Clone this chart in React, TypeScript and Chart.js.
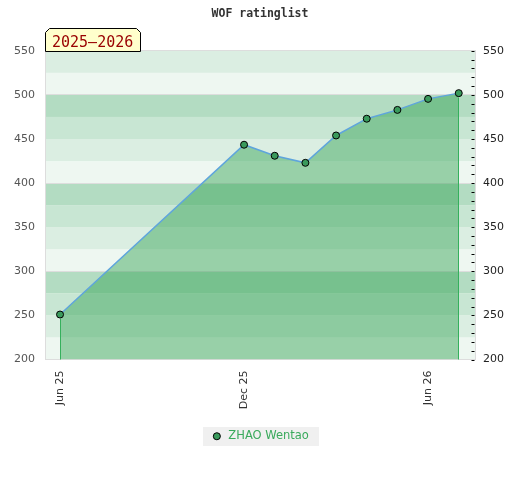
import React, { useEffect, useRef } from "react";
import { Chart, registerables } from "chart.js";

Chart.register(...registerables);

const chartTitle = "WOF ratinglist";
const seasonLabel = "2025–2026";
const seriesName = "ZHAO Wentao";

// observation dates (year-month) and ratings
const dates = ["2025-06", "2025-12", "2026-01", "2026-02", "2026-03", "2026-04", "2026-05", "2026-06", "2026-07"];
const ratings = [251, 443.5, 431, 423, 454, 473, 483, 495.5, 502];

// x axis ticks
const xTickDates = ["2025-06", "2025-12", "2026-06"];
const xTickLabels = ["Jun 25", "Dec 25", "Jun 26"];
// x axis range in months counted from Jan 2025
const xRange = [4.51, 18.53];

// y axis
const yMin = 200;
const yMax = 550;
const yStep = 50;
const yMinorStep = 10;
const bandStep = 25;
const bandColors = ["#eef7f1", "#dbeee2", "#c8e6d3", "#b3dcc2"];

function monthIndex(s: string): number {
  const [y, m] = s.split("-").map(Number);
  return (y - 2025) * 12 + (m - 1);
}

const GREEN = "#3aaa5c";
const POINT = "#3a9a5c";

const decor = {
  id: "decor",
  beforeDraw(chart: any) {
    const { ctx, chartArea } = chart;
    const y = chart.scales.y;
    ctx.save();
    for (let v = yMin; v < yMax; v += bandStep) {
      const idx = Math.round((v % 100) / bandStep) % bandColors.length;
      const top = y.getPixelForValue(v + bandStep);
      const bot = y.getPixelForValue(v);
      ctx.fillStyle = bandColors[idx];
      ctx.fillRect(chartArea.left, top, chartArea.right - chartArea.left, bot - top);
    }
    const hb = chart.legend && chart.legend.legendHitBoxes && chart.legend.legendHitBoxes[0];
    if (hb) {
      const cy = hb.top + hb.height / 2;
      ctx.fillStyle = "#f0f0f0";
      ctx.fillRect(Math.round(hb.left - 8), Math.round(cy - 9.5), Math.round(hb.width + 18), 19);
    }
    ctx.restore();
  },
  afterDatasetsDraw(chart: any) {
    const { ctx, chartArea } = chart;
    const meta = chart.getDatasetMeta(0);
    const pts = meta.data;
    if (!pts.length) return;
    ctx.save();
    ctx.strokeStyle = "#35b05c";
    ctx.lineWidth = 1;
    [pts[0], pts[pts.length - 1]].forEach((p: any) => {
      const x = Math.floor(p.x) + 0.5;
      ctx.beginPath();
      ctx.moveTo(x, p.y + 4.5);
      ctx.lineTo(x, chartArea.bottom);
      ctx.stroke();
    });
    ctx.restore();
  },
  afterDraw(chart: any) {
    const { ctx, chartArea } = chart;
    const y2 = chart.scales.y2;
    ctx.save();
    // minor ticks on right edge, inside plot
    ctx.strokeStyle = "#000";
    ctx.lineWidth = 1;
    for (let v = yMin; v <= yMax; v += yMinorStep) {
      const py = Math.round(y2.getPixelForValue(v)) + 0.5;
      ctx.beginPath();
      ctx.moveTo(chartArea.right - 3.5, py);
      ctx.lineTo(chartArea.right - 0.5, py);
      ctx.stroke();
    }
    // season label box
    ctx.font = '15px "DejaVu Sans Mono"';
    const tw = ctx.measureText(seasonLabel).width;
    const x0 = Math.round(chartArea.left) + 0.5;
    const x1 = Math.round(chartArea.left + tw + 14) + 0.5;
    const yb = Math.round(chartArea.top) + 0.5;
    const yt = yb - 23;
    const c = 4;
    ctx.beginPath();
    ctx.moveTo(x0, yb);
    ctx.lineTo(x0, yt + c);
    ctx.lineTo(x0 + c, yt);
    ctx.lineTo(x1 - c, yt);
    ctx.lineTo(x1, yt + c);
    ctx.lineTo(x1, yb);
    ctx.closePath();
    ctx.fillStyle = "#ffffcc";
    ctx.fill();
    ctx.strokeStyle = "#000";
    ctx.stroke();
    ctx.fillStyle = "#990000";
    ctx.textBaseline = "alphabetic";
    ctx.textAlign = "left";
    ctx.fillText(seasonLabel, x0 + 6.5, yb - 5);
    ctx.restore();
  },
};

export default function App() {
  const ref = useRef<HTMLCanvasElement | null>(null);

  useEffect(() => {
    document.body.style.margin = "0";
    if (!ref.current) return;
    const data = dates.map((d, i) => ({ x: monthIndex(d), y: ratings[i] }));
    const chart = new Chart(ref.current, {
      type: "line",
      data: {
        datasets: [
          {
            label: seriesName,
            data,
            yAxisID: "y",
            borderColor: "#5fa5dc",
            borderWidth: 1.5,
            backgroundColor: "rgba(46,160,80,0.45)",
            fill: "start",
            pointRadius: 3.5,
            pointBackgroundColor: POINT,
            pointBorderColor: "#000",
            pointBorderWidth: 1,
            tension: 0,
          },
        ],
      },
      options: {
        animation: false,
        responsive: false,
        events: [],
        layout: { padding: { top: 0, left: 0, right: 0, bottom: 28 } },
        scales: {
          x: {
            type: "linear",
            min: xRange[0],
            max: xRange[1],
            afterBuildTicks: (s: any) => {
              s.ticks = xTickDates.map((d) => ({ value: monthIndex(d) }));
            },
            afterFit: (s: any) => {
              s.height = 61;
            },
            ticks: {
              autoSkip: false,
              minRotation: 90,
              maxRotation: 90,
              padding: 11,
              color: "#333",
              font: { family: "DejaVu Sans", size: 11 },
              callback: (v: any) => {
                const i = xTickDates.findIndex((d) => monthIndex(d) === v);
                return i >= 0 ? xTickLabels[i] : "";
              },
            },
            grid: { drawOnChartArea: false, drawTicks: false },
            border: { display: true, color: "#ddd" },
          },
          y: {
            position: "left",
            min: yMin,
            max: yMax,
            afterFit: (s: any) => {
              s.width = 45;
            },
            ticks: {
              stepSize: yStep,
              padding: 10,
              color: "#555",
              font: { family: "DejaVu Sans", size: 11 },
            },
            grid: {
              drawTicks: false,
              color: (ctx: any) =>
                ctx.tick && (ctx.tick.value % 100 === 0 || ctx.tick.value === yMax) ? "#dddddd" : "rgba(0,0,0,0)",
            },
            border: { display: true, color: "#ddd" },
          },
          y2: {
            position: "right",
            min: yMin,
            max: yMax,
            afterFit: (s: any) => {
              s.width = 45;
            },
            ticks: {
              stepSize: yStep,
              padding: 8,
              color: "#222",
              font: { family: "DejaVu Sans", size: 11 },
            },
            grid: { drawOnChartArea: false, drawTicks: false },
            border: { display: true, color: "#ddd" },
          },
        },
        plugins: {
          title: {
            display: true,
            text: chartTitle,
            color: "#333",
            font: { family: "DejaVu Sans Mono", size: 11.5, weight: "bold" },
            padding: { top: 7, bottom: 30 },
          },
          legend: {
            position: "bottom",
            labels: {
              usePointStyle: true,
              boxHeight: 5,
              boxWidth: 11.5,
              padding: 10,
              color: GREEN,
              font: { family: "DejaVu Sans", size: 11.5 },
              generateLabels: (chart: any) => {
                const items = (Chart as any).defaults.plugins.legend.labels.generateLabels(chart);
                return items.map((it: any) => ({
                  ...it,
                  fillStyle: POINT,
                  strokeStyle: "#000",
                  lineWidth: 1,
                  pointStyle: "circle",
                  fontColor: GREEN,
                }));
              },
            },
          },
          tooltip: { enabled: false },
        },
      },
      plugins: [decor],
    } as any);
    return () => chart.destroy();
  }, []);

  return (
    <div style={{ width: 520, height: 480 }}>
      <canvas ref={ref} width={520} height={480} style={{ display: "block" }} />
    </div>
  );
}
